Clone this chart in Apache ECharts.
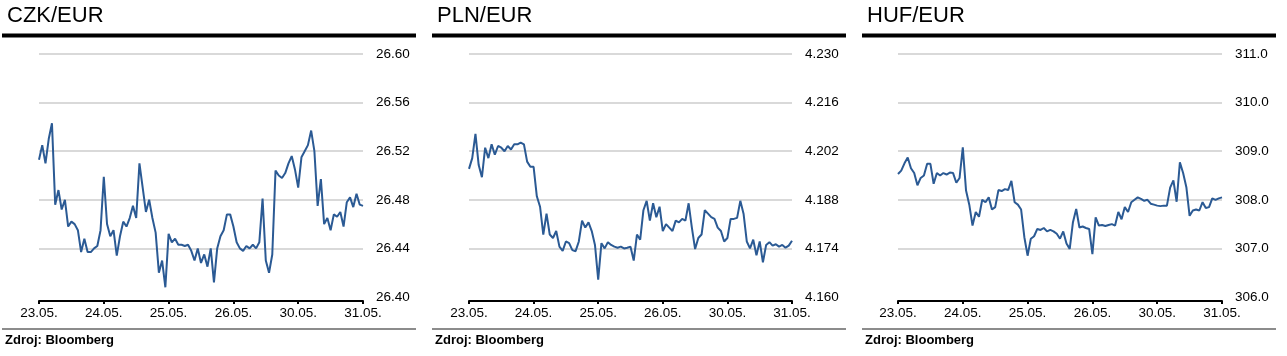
<!DOCTYPE html>
<html>
<head>
<meta charset="utf-8">
<script src="https://cdn.jsdelivr.net/npm/echarts@6/dist/echarts.min.js"></script>
<style>html,body{margin:0;padding:0;background:#fff}#c{width:1287px;height:356px}</style>
</head>
<body>
<div id="c"></div>
<script>
// ---- data ----
var titles = ['CZK/EUR', 'PLN/EUR', 'HUF/EUR'];
var dates = ['23.05.', '24.05.', '25.05.', '26.05.', '30.05.', '31.05.'];
var sourceText = 'Zdroj: Bloomberg';

var czk = [26.513,26.525,26.510,26.530,26.543,26.476,26.488,26.472,26.480,26.458,
26.462,26.460,26.455,26.437,26.448,26.437,26.437,26.440,26.442,26.455,
26.499,26.460,26.450,26.455,26.434,26.450,26.462,26.458,26.465,26.475,
26.465,26.510,26.490,26.470,26.480,26.465,26.453,26.420,26.430,26.408,
26.452,26.445,26.448,26.443,26.443,26.442,26.443,26.438,26.430,26.440,
26.428,26.435,26.425,26.440,26.412,26.440,26.450,26.455,26.468,26.468,
26.458,26.445,26.440,26.438,26.442,26.440,26.443,26.440,26.445,26.481,
26.430,26.420,26.435,26.504,26.500,26.498,26.502,26.510,26.516,26.505,
26.490,26.515,26.520,26.525,26.537,26.520,26.475,26.497,26.460,26.465,
26.455,26.468,26.466,26.470,26.458,26.478,26.482,26.474,26.485,26.476,26.475];

var pln = [4.1969,4.2000,4.2070,4.1980,4.1945,4.2030,4.2000,4.2040,4.2010,4.2035,
4.2030,4.2020,4.2035,4.2025,4.2040,4.2040,4.2045,4.2040,4.1990,4.1975,
4.1975,4.1890,4.1860,4.1780,4.1840,4.1780,4.1770,4.1790,4.1745,4.1733,
4.1760,4.1755,4.1735,4.1732,4.1760,4.1820,4.1800,4.1815,4.1790,4.1750,
4.1650,4.1755,4.1740,4.1758,4.1750,4.1745,4.1742,4.1745,4.1740,4.1742,
4.1745,4.1705,4.1780,4.1765,4.1850,4.1877,4.1820,4.1870,4.1830,4.1860,
4.1790,4.1810,4.1800,4.1790,4.1820,4.1815,4.1825,4.1820,4.1870,4.1800,
4.1738,4.1770,4.1780,4.1850,4.1840,4.1830,4.1825,4.1800,4.1790,4.1760,
4.1770,4.1825,4.1825,4.1828,4.1877,4.1840,4.1760,4.1740,4.1765,4.1720,
4.1760,4.1700,4.1750,4.1758,4.1748,4.1752,4.1745,4.1750,4.1742,4.1748,4.1762];

var huf = [308.53,308.60,308.75,308.87,308.65,308.55,308.30,308.45,308.50,308.74,
308.74,308.33,308.55,308.50,308.55,308.52,308.56,308.55,308.35,308.45,
309.08,308.19,307.90,307.47,307.75,307.65,308.00,307.95,308.05,307.80,
307.85,308.20,308.18,308.22,308.20,308.39,307.95,307.90,307.80,307.23,
306.85,307.20,307.25,307.40,307.38,307.42,307.35,307.38,307.35,307.30,
307.20,307.35,307.10,306.99,307.54,307.81,307.43,307.45,307.42,307.40,
306.88,307.64,307.47,307.48,307.46,307.48,307.50,307.47,307.75,307.60,
307.85,307.75,307.95,308.00,308.05,308.02,307.98,308.00,307.92,307.90,
307.88,307.87,307.88,307.88,308.25,308.40,307.96,308.77,308.55,308.26,
307.67,307.78,307.80,307.78,307.95,307.83,307.85,308.03,308.00,308.03,308.05];

var yMin = [26.40, 4.160, 306.0];
var yMax = [26.60, 4.230, 311.0];
var yStep = [0.04, 0.014, 1.0];
var yDec = [2, 3, 1];
var pointsPerDay = 20;

// ---- chart ----
var series = [czk, pln, huf];
var gridLeft = [39, 469, 898];
var gridRight = [924, 495, 65];
var panelX = [2, 432, 862];
var font = '"Liberation Sans", Arial, sans-serif';

var grids = [], xAxes = [], yAxes = [], ser = [], graphics = [];
for (var k = 0; k < 3; k++) {
  grids.push({left: gridLeft[k], right: gridRight[k], top: 54, height: 243});
  xAxes.push({
    type: 'value', gridIndex: k, min: 0, max: (dates.length - 1) * pointsPerDay,
    interval: pointsPerDay, offset: 4,
    axisLine: {show: true, onZero: false, lineStyle: {color: '#000', width: 2}},
    axisTick: {show: true, length: 3, lineStyle: {color: '#000', width: 2}},
    axisLabel: {margin: 5, fontFamily: font, fontSize: 13.5, color: '#000',
      formatter: function (v) { return dates[Math.round(v / pointsPerDay)]; }},
    splitLine: {show: false}
  });
  (function (kk) {
    yAxes.push({
      type: 'value', gridIndex: kk, position: 'right',
      min: yMin[kk], max: yMax[kk], interval: yStep[kk],
      axisLine: {show: false}, axisTick: {show: false},
      axisLabel: {margin: 13, fontFamily: font, fontSize: 13.5, color: '#000',
        formatter: function (v) { return v.toFixed(yDec[kk]); }},
      splitLine: {show: true, showMinLine: false, lineStyle: {color: '#d9d9d9', width: 2}}
    });
  })(k);
  ser.push({
    type: 'line', xAxisIndex: k, yAxisIndex: k, symbol: 'none',
    lineStyle: {color: '#2b5a94', width: 2}, animation: false,
    data: series[k].map(function (v, i) { return [i, v]; })
  });
  graphics.push({type: 'text', left: panelX[k] + 5, top: 5,
    style: {text: titles[k], font: '22px ' + font, fill: '#000'}});
  graphics.push({type: 'rect', shape: {x: panelX[k], y: 33.5, width: 414, height: 4},
    style: {fill: '#000'}});
  graphics.push({type: 'rect', shape: {x: panelX[k], y: 328, width: 414, height: 2},
    style: {fill: '#8c8c8c'}});
  graphics.push({type: 'text', left: panelX[k] + 3, top: 334,
    style: {text: sourceText, font: 'bold 13px ' + font, fill: '#000'}});
}

var chart = echarts.init(document.getElementById('c'));
chart.setOption({
  animation: false,
  grid: grids, xAxis: xAxes, yAxis: yAxes, series: ser, graphic: graphics
});
</script>
</body>
</html>
